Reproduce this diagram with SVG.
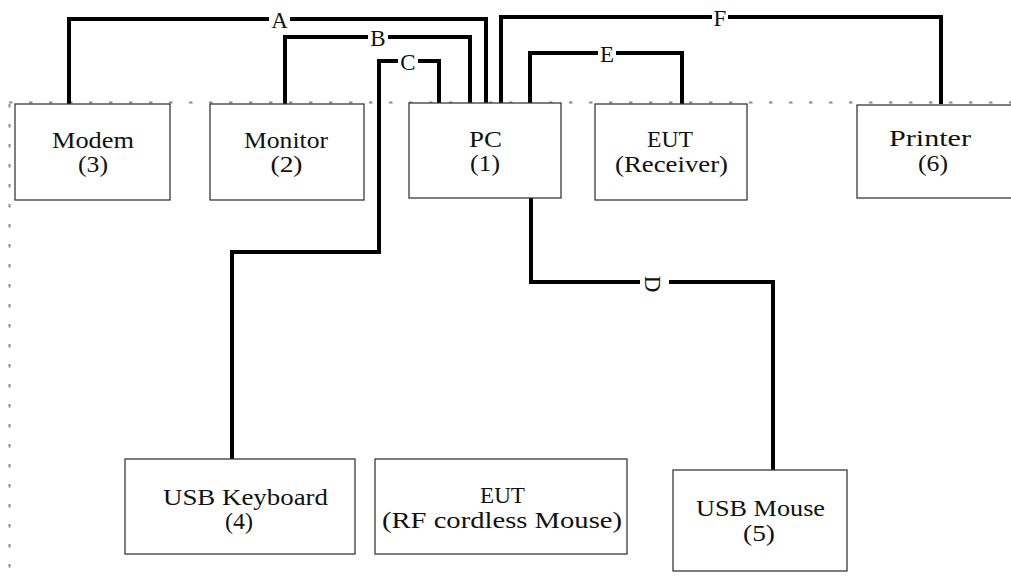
<svg xmlns="http://www.w3.org/2000/svg" width="1011" height="582" viewBox="0 0 1011 582">
<style>
.box{fill:#fff;stroke:#3a3a3a;stroke-width:1.3}
.t{font-size:24px;fill:#111;text-anchor:middle}
.lbl{font-size:23px;fill:#111;text-anchor:middle}
.wire{fill:none;stroke:#000;stroke-width:4;stroke-linejoin:miter;stroke-linecap:butt}
.dot{fill:none;stroke:#8c8c8c;stroke-width:2;stroke-dasharray:3.5 16.5}
.mask{fill:#fff}
</style>
<rect width="1011" height="582" fill="#fff"/>
<g id="boundary">
<path class="dot" d="M9,102.5 H1011"/>
<path class="dot" d="M9.5,104 V582"/>
</g>
<g id="diagram" font-family="Liberation Serif">
<g id="connectors">
<path class="wire" d="M69,104 V19 H486 V103"/>
<path class="wire" d="M285,104 V37 H470 V103"/>
<path class="wire" d="M232,459 V252 H379 V61 H439 V103"/>
<path class="wire" d="M531,198 V282 H640 M669,282 H773 V470"/>
<path class="wire" d="M530,103 V53 H682 V104"/>
<path class="wire" d="M501,103 V17 H941 V104"/>
<rect class="mask" x="269" y="10" width="21" height="18"/>
<rect class="mask" x="368" y="29" width="20" height="16"/>
<rect class="mask" x="398" y="53" width="20" height="16"/>
<rect class="mask" x="598" y="45" width="18" height="16"/>
<rect class="mask" x="712" y="9" width="16" height="16"/>
<text class="lbl" x="279.5" y="28">A</text>
<text class="lbl" x="378" y="45.5">B</text>
<text class="lbl" x="408" y="69.5">C</text>
<text class="lbl" x="607" y="61.5">E</text>
<text class="lbl" x="720" y="25.5">F</text>
<text class="lbl" transform="translate(653,284) rotate(90)" x="0" y="8">D</text>
</g>
<g id="modem">
<rect class="box" x="15" y="104" width="155" height="96"/>
<text class="t" x="93" y="148" textLength="82" lengthAdjust="spacingAndGlyphs">Modem</text>
<text class="t" x="93" y="172" textLength="30" lengthAdjust="spacingAndGlyphs">(3)</text>
</g>
<g id="monitor">
<rect class="box" x="210" y="104" width="154" height="96"/>
<text class="t" x="286" y="148" textLength="84" lengthAdjust="spacingAndGlyphs">Monitor</text>
<text class="t" x="286.5" y="172" textLength="32" lengthAdjust="spacingAndGlyphs">(2)</text>
</g>
<g id="pc">
<rect class="box" x="409" y="103" width="152" height="95"/>
<text class="t" x="485.5" y="147" textLength="33" lengthAdjust="spacingAndGlyphs">PC</text>
<text class="t" x="485" y="171" textLength="30" lengthAdjust="spacingAndGlyphs">(1)</text>
</g>
<g id="eut-receiver">
<rect class="box" x="595" y="104" width="152" height="96"/>
<text class="t" x="670" y="147" textLength="46" lengthAdjust="spacingAndGlyphs">EUT</text>
<text class="t" x="671.5" y="172" textLength="113" lengthAdjust="spacingAndGlyphs">(Receiver)</text>
</g>
<g id="printer">
<rect class="box" x="857" y="105" width="160" height="93"/>
<text class="t" x="930" y="146" textLength="82" lengthAdjust="spacingAndGlyphs">Printer</text>
<text class="t" x="933" y="171" textLength="30" lengthAdjust="spacingAndGlyphs">(6)</text>
</g>
<g id="usb-keyboard">
<rect class="box" x="125" y="459" width="230" height="95"/>
<text class="t" x="245.5" y="505" textLength="165" lengthAdjust="spacingAndGlyphs">USB Keyboard</text>
<text class="t" x="239" y="529" textLength="28" lengthAdjust="spacingAndGlyphs">(4)</text>
</g>
<g id="eut-mouse">
<rect class="box" x="375" y="459" width="252" height="95"/>
<text class="t" x="502.5" y="503" textLength="45" lengthAdjust="spacingAndGlyphs">EUT</text>
<text class="t" x="502" y="528" textLength="240" lengthAdjust="spacingAndGlyphs">(RF cordless Mouse)</text>
</g>
<g id="usb-mouse">
<rect class="box" x="673" y="470" width="174" height="101"/>
<text class="t" x="760.5" y="516" textLength="129" lengthAdjust="spacingAndGlyphs">USB Mouse</text>
<text class="t" x="759" y="541" textLength="32" lengthAdjust="spacingAndGlyphs">(5)</text>
</g>
</g>
</svg>
